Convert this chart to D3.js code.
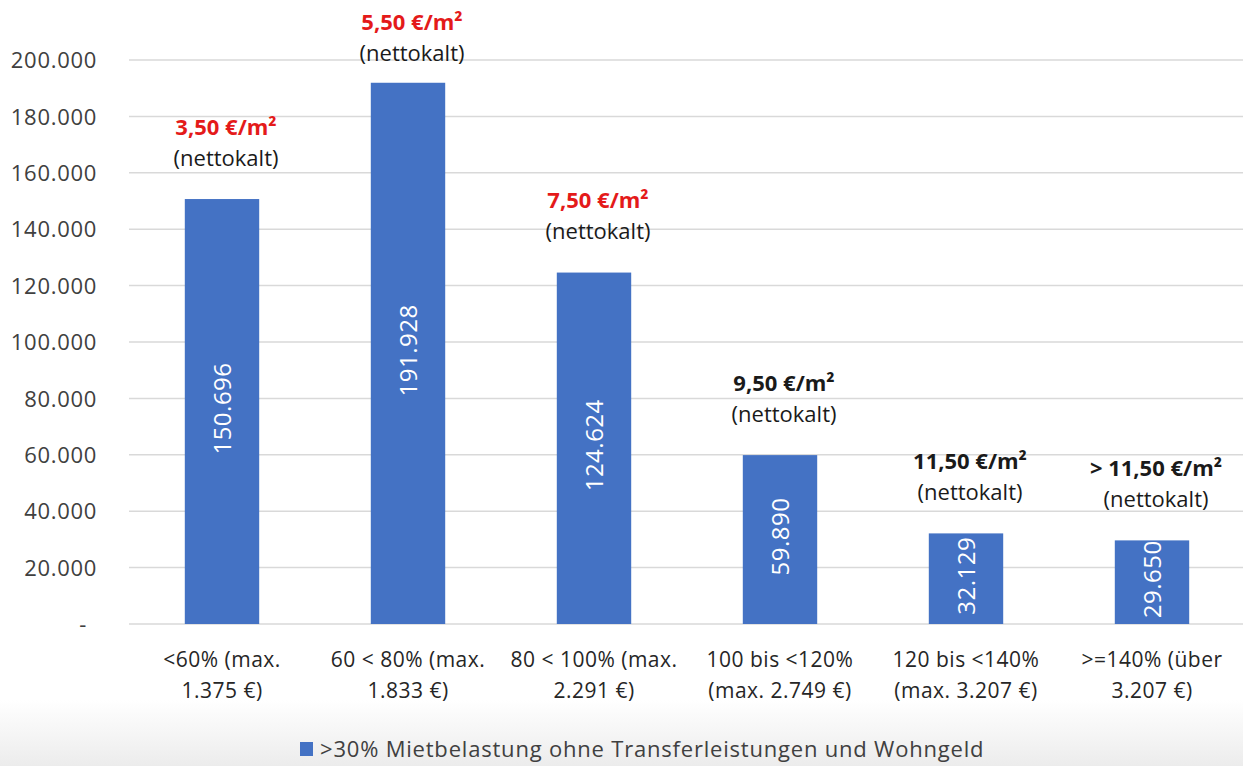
<!DOCTYPE html>
<html>
<head>
<meta charset="utf-8">
<script src="https://cdn.jsdelivr.net/npm/d3@7"></script>
<style>
  html, body { margin: 0; padding: 0; background: #fff; }
  svg { display: block; }
</style>
</head>
<body>
<svg id="chart" width="1243" height="766"></svg>
<script>
// Income bands (two-line category labels)
const categories = [
  ["<60% (max.", "1.375 €)"],
  ["60 < 80% (max.", "1.833 €)"],
  ["80 < 100% (max.", "2.291 €)"],
  ["100 bis <120%", "(max. 2.749 €)"],
  ["120 bis <140%", "(max. 3.207 €)"],
  [">=140% (über", "3.207 €)"]
];
// Households with >30% rent burden
const values = [150696, 191928, 124624, 59890, 32129, 29650];
// Rent per m² annotation above each bar
const rentLabels = ["3,50 €/m²", "5,50 €/m²", "7,50 €/m²", "9,50 €/m²", "11,50 €/m²", "> 11,50 €/m²"];
const rentHighlighted = [true, true, true, false, false, false];
const yTicks = [0, 20000, 40000, 60000, 80000, 100000, 120000, 140000, 160000, 180000, 200000];
const seriesName = ">30% Mietbelastung ohne Transferleistungen und Wohngeld";

const W = 1243, H = 766;
const margin = { left: 129, right: -2, top: 60, bottom: 142 };
const svg = d3.select("#chart");
const fontMain = "'Open Sans', 'Noto Sans', sans-serif";
const barColor = "#4472C4";

// Soft grey fade at the bottom of the canvas
const defs = svg.append("defs");
const grad = defs.append("linearGradient").attr("id", "fade").attr("x1", 0).attr("y1", 0).attr("x2", 0).attr("y2", 1);
grad.append("stop").attr("offset", 0).attr("stop-color", "#ffffff");
grad.append("stop").attr("offset", 1).attr("stop-color", "#ececec");
svg.append("rect").attr("x", 0).attr("y", 0).attr("width", W).attr("height", H).attr("fill", "#fff");
svg.append("rect").attr("x", 0).attr("y", 700).attr("width", W).attr("height", 66).attr("fill", "url(#fade)");

const x = d3.scaleBand()
  .domain(d3.range(categories.length))
  .range([margin.left, W - margin.right])
  .paddingInner(0.6)
  .paddingOuter(0.3);

const y = d3.scaleLinear()
  .domain([0, 200000])
  .range([H - margin.bottom, margin.top]);

const fmt = d3.formatLocale({ decimal: ",", thousands: ".", grouping: [3], currency: ["", " €"] }).format(",d");

// Horizontal gridlines
svg.append("g")
  .selectAll("line")
  .data(yTicks)
  .join("line")
  .attr("x1", margin.left)
  .attr("x2", W)
  .attr("y1", d => y(d))
  .attr("y2", d => y(d))
  .attr("stroke", "#d9d9d9")
  .attr("stroke-width", 1.5);

// Y axis labels (accounting style: zero shown as dash)
const yAxis = d3.axisLeft(y)
  .tickValues(yTicks)
  .tickSize(0)
  .tickPadding(0)
  .tickFormat(d => d === 0 ? "-" : fmt(d));
const gy = svg.append("g").attr("transform", "translate(97,0)").call(yAxis);
gy.select(".domain").remove();
gy.selectAll("text")
  .attr("font-family", fontMain)
  .attr("font-size", 22)
  .attr("letter-spacing", "0.7px")
  .attr("fill", "#404040")
  .attr("dy", "0.35em")
  .attr("dx", d => d === 0 ? -10 : 0);

// Bars
svg.append("g")
  .selectAll("rect")
  .data(values)
  .join("rect")
  .attr("x", (d, i) => x(i))
  .attr("width", x.bandwidth())
  .attr("y", d => y(d))
  .attr("height", d => y(0) - y(d))
  .attr("fill", barColor);

// Value labels inside bars, rotated
svg.append("g")
  .selectAll("text")
  .data(values)
  .join("text")
  .attr("transform", (d, i) => `translate(${x(i) + x.bandwidth() / 2 + 1},${(y(d) + y(0)) / 2 - 3}) rotate(-90)`)
  .attr("text-anchor", "middle")
  .attr("dy", "0.35em")
  .attr("font-family", fontMain)
  .attr("font-size", 24)
  .attr("letter-spacing", "0.5px")
  .attr("fill", "#ffffff")
  .text(d => fmt(d));

// Rent annotations above bars
const ann = svg.append("g")
  .selectAll("g")
  .data(values)
  .join("g")
  .attr("transform", (d, i) => `translate(${x(i) + x.bandwidth() / 2 + 4},${Math.max(y(d) - 41, 53)})`);
ann.append("text")
  .attr("text-anchor", "middle")
  .attr("y", -31)
  .attr("dy", "0.35em")
  .attr("font-family", "'Open Sans', sans-serif")
  .attr("font-weight", "bold")
  .attr("font-size", 22)
  .attr("fill", (d, i) => rentHighlighted[i] ? "#e41a1a" : "#1a1a1a")
  .text((d, i) => rentLabels[i]);
ann.append("text")
  .attr("text-anchor", "middle")
  .attr("dy", "0.35em")
  .attr("font-family", "'Open Sans', sans-serif")
  .attr("font-size", 22)
  .attr("fill", "#1a1a1a")
  .text("(nettokalt)");

// Category labels
const xl = svg.append("g")
  .selectAll("text")
  .data(categories)
  .join("text")
  .attr("x", (d, i) => x(i) + x.bandwidth() / 2)
  .attr("y", 660)
  .attr("text-anchor", "middle")
  .attr("font-family", fontMain)
  .attr("font-size", 21)
  .attr("letter-spacing", "0.5px")
  .attr("fill", "#262626");
xl.selectAll("tspan")
  .data(d => d)
  .join("tspan")
  .attr("x", function () { return this.parentNode.getAttribute("x"); })
  .attr("dy", (d, j) => j === 0 ? "0.35em" : "1.47em")
  .text(d => d);

// Legend
const lg = svg.append("g").attr("transform", "translate(300,749)");
lg.append("rect").attr("x", 0).attr("y", -7).attr("width", 13).attr("height", 14).attr("fill", barColor);
lg.append("text")
  .attr("x", 20)
  .attr("dy", "0.35em")
  .attr("font-family", fontMain)
  .attr("font-size", 22)
  .attr("letter-spacing", "0.8px")
  .attr("fill", "#404040")
  .text(seriesName);
</script>
</body>
</html>
